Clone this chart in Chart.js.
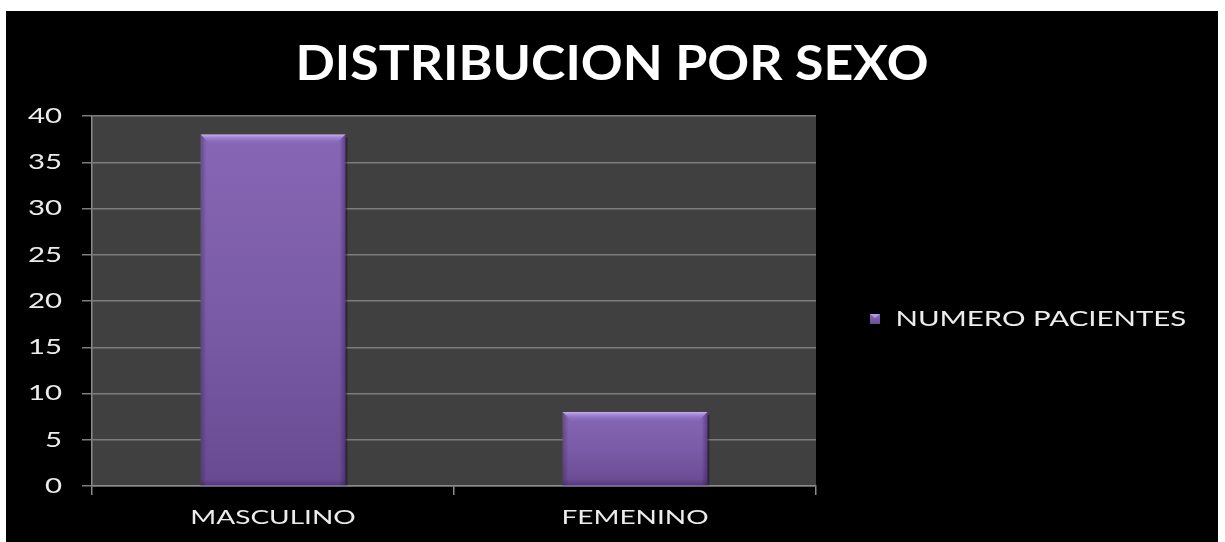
<!DOCTYPE html>
<html lang="es">
<head>
<meta charset="utf-8">
<title>Distribución por sexo</title>
<script src="https://cdn.jsdelivr.net/npm/chart.js@4.4.1/dist/chart.umd.min.js"></script>
<style>
  html, body { margin: 0; padding: 0; background: #ffffff; }
  #panel { position: absolute; left: 6px; top: 11px; width: 1212px; height: 531px; background: #000000; }
</style>
</head>
<body>
<div id="panel"><canvas id="chart"></canvas></div>
<script>
// ---- data ----
const chartTitle = 'DISTRIBUCION POR SEXO';
const categories = ['MASCULINO', 'FEMENINO'];
const seriesLabel = 'NUMERO PACIENTES';
const patientCounts = [38, 8];
const yTickMin = 0;
const yTickMax = 40;
const yTickStep = 5;

// ---- look ----
const FONT = 'Lato, "Open Sans", sans-serif';
const LABEL_STRETCH = 1.4;   // wide, slide-style lettering for axis and legend text
const TITLE_STRETCH = 1.08;
const TEXT_COLOR = '#ececec';
const LEGEND_WIDTH = 402;    // fixed column to the right of the plot

const canvas = document.getElementById('chart');
const ctx2d = canvas.getContext('2d');

// Horizontally widen the lettering: every string is drawn and measured with an x-scale.
(function widenText(ctx) {
  const fill = ctx.fillText;
  const measure = ctx.measureText;
  const stretchFor = f => (/bold/.test(f) ? TITLE_STRETCH : LABEL_STRETCH);
  ctx.fillText = function (text, x, y) {
    const k = stretchFor(this.font);
    this.save();
    this.translate(x, y);
    this.scale(k, 1);
    fill.call(this, text, 0, 0);
    this.restore();
  };
  ctx.measureText = function (text) {
    const m = measure.call(this, text);
    const k = stretchFor(this.font);
    return {
      width: m.width * k,
      actualBoundingBoxAscent: m.actualBoundingBoxAscent,
      actualBoundingBoxDescent: m.actualBoundingBoxDescent,
      actualBoundingBoxLeft: m.actualBoundingBoxLeft * k,
      actualBoundingBoxRight: m.actualBoundingBoxRight * k
    };
  };
})(ctx2d);

// Small bevelled swatch used as the legend marker
const marker = document.createElement('canvas');
marker.width = 15;
marker.height = 10;
(function (m) {
  const c = m.getContext('2d');
  const g = c.createLinearGradient(0, 0, 0, 10);
  g.addColorStop(0, '#8a6ab8');
  g.addColorStop(1, '#6c4e96');
  c.fillStyle = g;
  c.fillRect(0, 0, 10, 10);
  c.fillStyle = '#b698e6';
  c.beginPath();
  c.moveTo(0, 0); c.lineTo(10, 0); c.lineTo(5, 4); c.closePath();
  c.fill();
})(marker);

// Vertical purple gradient for each bar, from its top down to the zero line
function barFill(context) {
  const chart = context.chart;
  const y = chart.scales && chart.scales.y;
  if (!chart.chartArea || !y || !context.parsed) return '#7b5ca8';
  const top = y.getPixelForValue(context.parsed.y);
  const base = y.getPixelForValue(0);
  const g = chart.ctx.createLinearGradient(0, top, 0, base);
  g.addColorStop(0, '#8767b5');
  g.addColorStop(0.5, '#7a5ba7');
  g.addColorStop(1, '#684a91');
  return g;
}

// Dark grey plot area behind the grid
const plotBackground = {
  id: 'plotBackground',
  beforeDraw(chart) {
    const {ctx, chartArea: a} = chart;
    ctx.save();
    ctx.fillStyle = '#404040';
    ctx.fillRect(a.left, a.top, a.right - a.left, a.bottom - a.top);
    ctx.restore();
  }
};

// Give the legend column a fixed width instead of the default half-of-side cap
const legendColumn = {
  id: 'legendColumn',
  beforeLayout(chart) {
    const lg = chart.legend;
    if (lg && !lg.fixedColumn) {
      const fit = lg.fit;
      lg.fit = function () {
        fit.call(this);
        this.width = LEGEND_WIDTH;
      };
      lg.fixedColumn = true;
    }
  }
};

// Bevelled edges on top of every bar, placed from the bar element geometry
const barBevel = {
  id: 'barBevel',
  afterDatasetsDraw(chart) {
    const ctx = chart.ctx;
    chart.getDatasetMeta(0).data.forEach(bar => {
      const p = bar.getProps(['x', 'y', 'width', 'base'], true);
      const l = p.x - p.width / 2, r = p.x + p.width / 2;
      const t = Math.min(p.y, p.base), b = Math.max(p.y, p.base);
      const bev = 9;
      ctx.save();
      // lit top face
      let g = ctx.createLinearGradient(0, t, 0, t + bev);
      g.addColorStop(0, 'rgba(205,178,248,0.95)');
      g.addColorStop(0.35, 'rgba(170,140,222,0.75)');
      g.addColorStop(1, 'rgba(140,110,190,0.15)');
      ctx.fillStyle = g;
      ctx.beginPath();
      ctx.moveTo(l, t); ctx.lineTo(r, t); ctx.lineTo(r - bev, t + bev); ctx.lineTo(l + bev, t + bev);
      ctx.closePath();
      ctx.fill();
      // shaded sides
      g = ctx.createLinearGradient(l, 0, l + 6, 0);
      g.addColorStop(0, 'rgba(45,22,75,0.35)');
      g.addColorStop(1, 'rgba(45,22,75,0)');
      ctx.fillStyle = g;
      ctx.beginPath();
      ctx.moveTo(l, t); ctx.lineTo(l + 6, t + 6); ctx.lineTo(l + 6, b); ctx.lineTo(l, b);
      ctx.closePath();
      ctx.fill();
      g = ctx.createLinearGradient(r, 0, r - 6, 0);
      g.addColorStop(0, 'rgba(45,22,75,0.45)');
      g.addColorStop(1, 'rgba(45,22,75,0)');
      ctx.fillStyle = g;
      ctx.beginPath();
      ctx.moveTo(r, t); ctx.lineTo(r - 6, t + 6); ctx.lineTo(r - 6, b); ctx.lineTo(r, b);
      ctx.closePath();
      ctx.fill();
      // darker foot
      g = ctx.createLinearGradient(0, b - 6, 0, b);
      g.addColorStop(0, 'rgba(45,22,75,0)');
      g.addColorStop(1, 'rgba(45,22,75,0.35)');
      ctx.fillStyle = g;
      ctx.fillRect(l, b - 6, r - l, 6);
      // thin shadow just right of the bar
      ctx.fillStyle = 'rgba(0,0,0,0.35)';
      ctx.fillRect(r, t + 3, 2, b - t - 3);
      ctx.restore();
    });
  }
};

new Chart(ctx2d, {
  type: 'bar',
  data: {
    labels: categories,
    datasets: [{
      label: seriesLabel,
      data: patientCounts,
      backgroundColor: barFill,
      borderWidth: 0,
      barPercentage: 0.4,
      categoryPercentage: 1.0
    }]
  },
  options: {
    responsive: true,
    maintainAspectRatio: false,
    animation: false,
    events: [],
    layout: { padding: { top: 0, left: 0, right: 0, bottom: 0 } },
    plugins: {
      title: {
        display: true,
        text: chartTitle,
        color: '#ffffff',
        font: { family: FONT, size: 48, weight: 'bold', lineHeight: 1.2 },
        padding: { top: 25, bottom: 22.4 }
      },
      legend: {
        position: 'right',
        // empty heading that nudges the single entry a little below the middle
        title: { display: true, text: '', padding: 36.5, font: { size: 10 } },
        labels: {
          color: TEXT_COLOR,
          font: { family: FONT, size: 21 },
          usePointStyle: true,
          pointStyle: marker,
          pointStyleWidth: 15,
          padding: 54
        }
      },
      tooltip: { enabled: false }
    },
    scales: {
      x: {
        ticks: { color: TEXT_COLOR, font: { family: FONT, size: 20 }, padding: 11 },
        grid: { drawOnChartArea: false, drawTicks: true, tickLength: 9, color: '#8a8a8a', lineWidth: 1.5, offset: true },
        border: { color: '#8a8a8a', width: 1.5 },
        afterFit(scale) { scale.height = 56; }
      },
      y: {
        min: yTickMin,
        max: yTickMax,
        ticks: { stepSize: yTickStep, color: TEXT_COLOR, font: { family: FONT, size: 21 }, padding: 20 },
        grid: { color: '#7c7c7c', lineWidth: 1.5, tickLength: 10 },
        border: { color: '#8a8a8a', width: 1.5 },
        afterFit(scale) { scale.width = 86; }
      }
    }
  },
  plugins: [plotBackground, legendColumn, barBevel]
});
</script>
</body>
</html>
